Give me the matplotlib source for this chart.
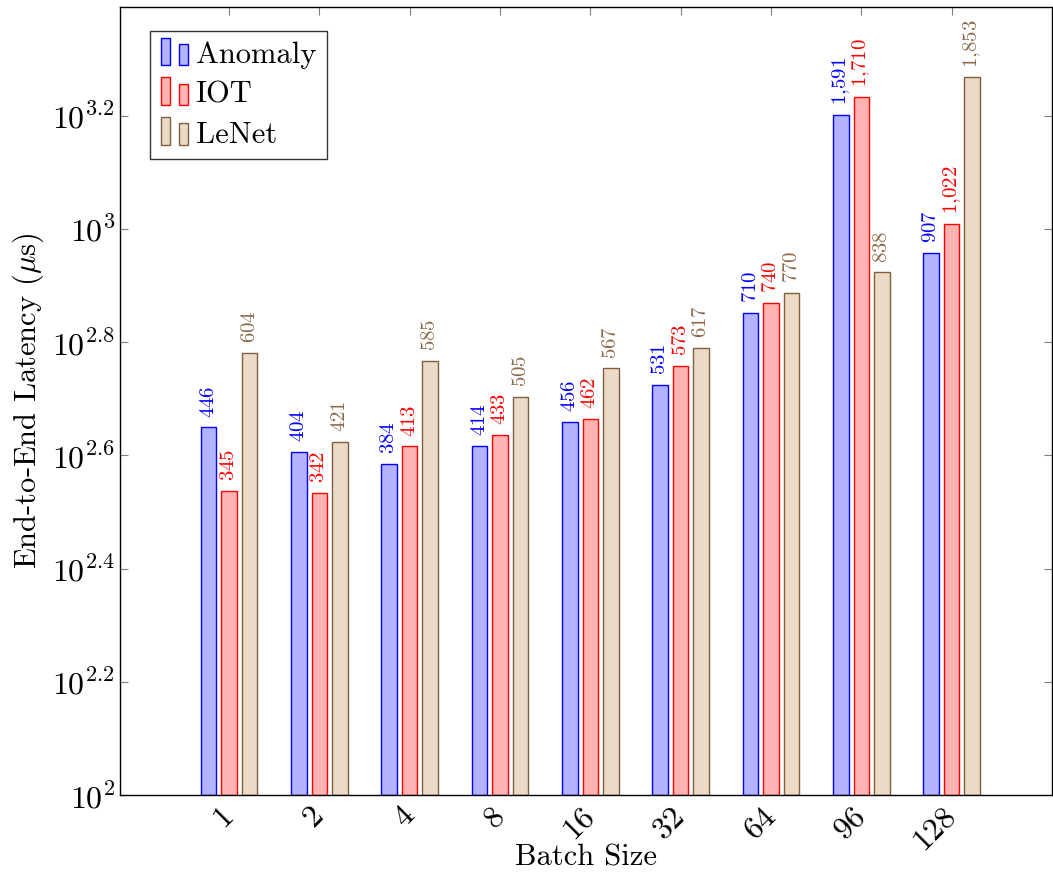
import matplotlib
matplotlib.use("Agg")
import matplotlib.pyplot as plt
import numpy as np
from matplotlib.legend_handler import HandlerBase
from matplotlib.patches import Rectangle
from matplotlib.ticker import FixedLocator, FuncFormatter, NullLocator

# ── data ───────────────────────────────────────────────────────────
batch_sizes = ["1", "2", "4", "8", "16", "32", "64", "96", "128"]
anomaly = [446, 404, 384, 414, 456, 531, 710, 1591, 907]
iot     = [345, 342, 413, 433, 462, 573, 740, 1710, 1022]
lenet   = [604, 421, 585, 505, 567, 617, 770, 838, 1853]
series_names = ["Anomaly", "IOT", "LeNet"]

# ── style ──────────────────────────────────────────────────────────
plt.rcParams["font.family"] = "serif"
plt.rcParams["font.serif"] = ["cmr10", "DejaVu Serif"]
plt.rcParams["mathtext.fontset"] = "cm"
plt.rcParams["axes.formatter.use_mathtext"] = True

FILLS  = ["#b3b3ff", "#ffb3b3", "#ecd9c6"]
EDGES  = ["#0000ff", "#ff0000", "#7f5f3f"]
TEXTS  = ["#0000ff", "#ff0000", "#8a6a4a"]


class TwoBarHandler(HandlerBase):
    # pgfplots-style ybar legend: two little bars, the first a bit taller
    def create_artists(self, legend, orig, xd, yd, w, h, fontsize, trans):
        bw = w * 0.32
        arts = []
        for x0, hh in ((xd + w * 0.0, h * 1.3), (xd + w * 0.62, h * 1.0)):
            r = Rectangle((x0, yd - h * 0.1), bw, hh,
                          facecolor=orig.get_facecolor(), edgecolor=orig.get_edgecolor(),
                          linewidth=1.0, transform=trans)
            arts.append(r)
        return arts


fig = plt.figure(figsize=(10.53, 8.77), dpi=100)
ax = fig.add_axes([0.114, 0.0935, 0.885, 0.8985])

BASE = 100
x = np.arange(len(batch_sizes))
offsets = [-0.227, 0.0, 0.227]
width = 0.172
handles = []
for vals, off, fc, ec, tc, name in zip([anomaly, iot, lenet], offsets, FILLS, EDGES, TEXTS, series_names):
    bars = ax.bar(x + off, [v - BASE for v in vals], width=width, bottom=BASE,
                  facecolor=fc, edgecolor=ec, linewidth=1.0, label=name, zorder=2)
    handles.append(bars.patches[0])
    for xi, v in zip(x + off, vals):
        lbl = "$" + f"{v:,}".replace(",", "{,}") + "$"
        ax.annotate(lbl, (xi, v), xytext=(0, 7), textcoords="offset points",
                    rotation=90, ha="center", va="bottom", color=tc, fontsize=15)

ax.set_yscale("log")
ax.set_ylim(100, 10 ** 3.392)
ax.set_xlim(-1.207, 9.11)

yt = [2, 2.2, 2.4, 2.6, 2.8, 3, 3.2]
ax.yaxis.set_major_locator(FixedLocator([10 ** e for e in yt]))
ax.yaxis.set_minor_locator(NullLocator())
ax.yaxis.set_major_formatter(FuncFormatter(
    lambda v, p: "$10^{%s}$" % (f"{np.log10(v):.1f}".rstrip("0").rstrip("."))))

ax.set_xticks(x)
ax.set_xticklabels(batch_sizes, rotation=45, ha="right", va="center",
                   rotation_mode="anchor")

ax.tick_params(axis="both", which="both", direction="in", length=6, width=0.8,
               color="#808080", top=True, right=True, labelsize=23)
ax.tick_params(axis="x", pad=12)
for s in ax.spines.values():
    s.set_linewidth(1.0)
    s.set_color("black")

ax.set_xlabel("Batch Size", fontsize=22)
ax.xaxis.set_label_coords(0.5, -0.062)
ax.set_ylabel(r"End-to-End Latency ($\mu$s)", fontsize=22, labelpad=4)

leg = ax.legend(handles=handles, labels=series_names, loc="upper left",
                bbox_to_anchor=(0.032, 0.9695), fontsize=22, frameon=True,
                fancybox=False, handler_map={Rectangle: TwoBarHandler()},
                handlelength=0.95, handletextpad=0.2, borderpad=0.35,
                labelspacing=0.4, borderaxespad=0.0)
leg.get_frame().set_edgecolor("black")
leg.get_frame().set_linewidth(1.0)

fig.savefig("out.png", dpi=100)
